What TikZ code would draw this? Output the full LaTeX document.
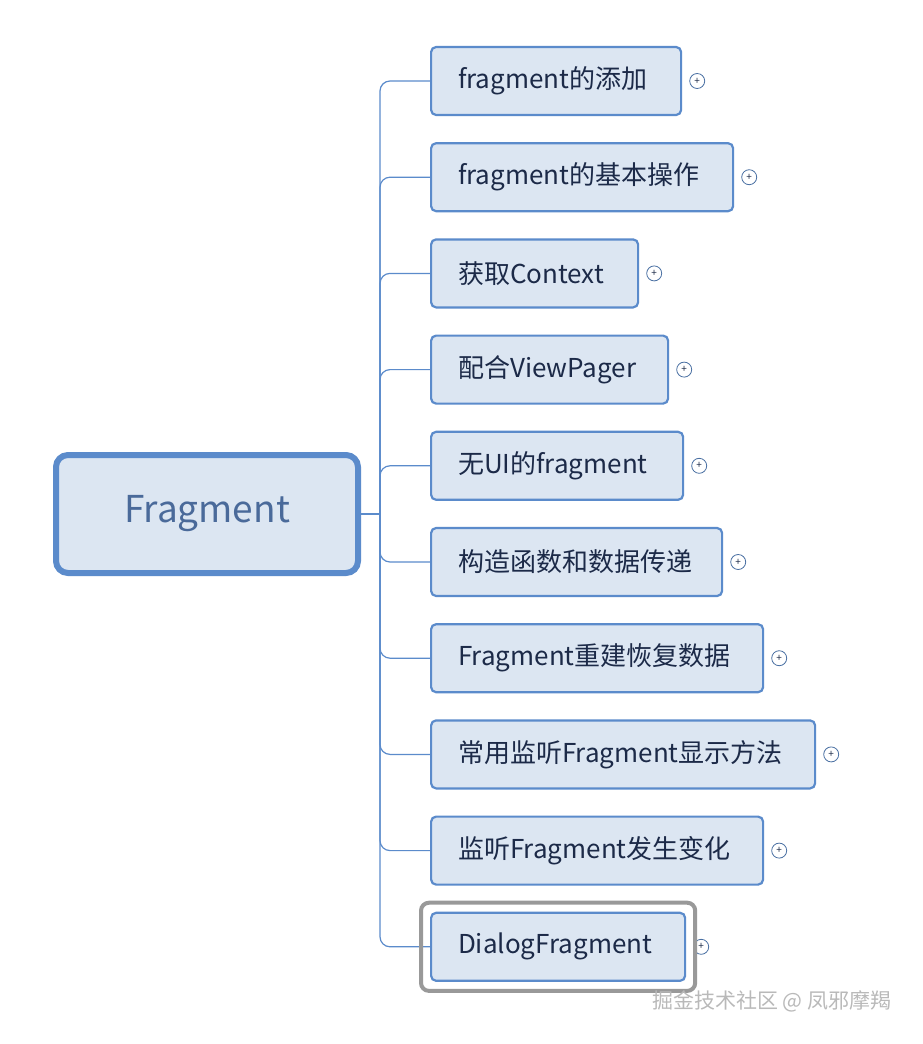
\documentclass[tikz,border=0pt]{standalone}
\usepackage{fontspec}
\setmainfont{Noto Sans CJK SC}
\usepackage{tikz}
\definecolor{boxfill}{HTML}{DCE6F2}
\definecolor{boxline}{HTML}{5B8BCB}
\definecolor{boxtext}{HTML}{1C2A48}
\definecolor{roottext}{HTML}{4A6A9A}
\tikzset{
  root/.style={draw=boxline,fill=boxfill,line width=6pt,rounded corners=12pt,
               minimum width=302,minimum height=118,text=roottext,font=\fontsize{37}{40}\selectfont},
  child/.style={draw=boxline,fill=boxfill,line width=2.2pt,rounded corners=5pt,
               minimum height=68,inner xsep=27,align=left,text=boxtext,
               font=\fontsize{26}{29}\selectfont,anchor=west},
  plus/.style={draw=boxline!80!black,circle,fill=white,line width=0.8pt,minimum size=15,inner sep=0,
               font=\fontsize{10}{10}\selectfont,text=boxtext},
  link/.style={boxline,line width=1.2pt,rounded corners=10pt}
}
\begin{document}
\begin{tikzpicture}[x=1pt,y=-1pt]
  \useasboundingbox (0,0) rectangle (922,1044);
  % root node
  \node[root] (root) at (207,514) {Fragment};
  \coordinate (hub) at (380,514);
  \draw[link] (root.east) -- (hub);
  % children
  \foreach \t/\w [count=\i] in {fragment的添加/250, fragment的基本操作/302, 获取Context/207,
      配合ViewPager/237, 无UI的fragment/252, 构造函数和数据传递/291, Fragment重建恢复数据/332,
      常用监听Fragment显示方法/384, 监听Fragment发生变化/332, DialogFragment/254}{%
    \node[child,text width=\w-54] (c\i) at (430,{81+96.2*(\i-1)}) {\t};
    \node[plus] (p\i) at ([xshift=15]c\i.east) {+};
    \draw[link] (hub) |- (c\i.west);
  }
  % selection frame
  \draw[gray!80,line width=4pt,rounded corners=8pt]
    ([xshift=-9,yshift=9]c10.north west) rectangle ([xshift=9,yshift=-9]c10.south east);
  % watermark
  \node[text=gray!55,font=\fontsize{21}{24}\selectfont,anchor=east] (mark) at (895,1001) {掘金技术社区 @ 凤邪摩羯};
\end{tikzpicture}
\end{document}
